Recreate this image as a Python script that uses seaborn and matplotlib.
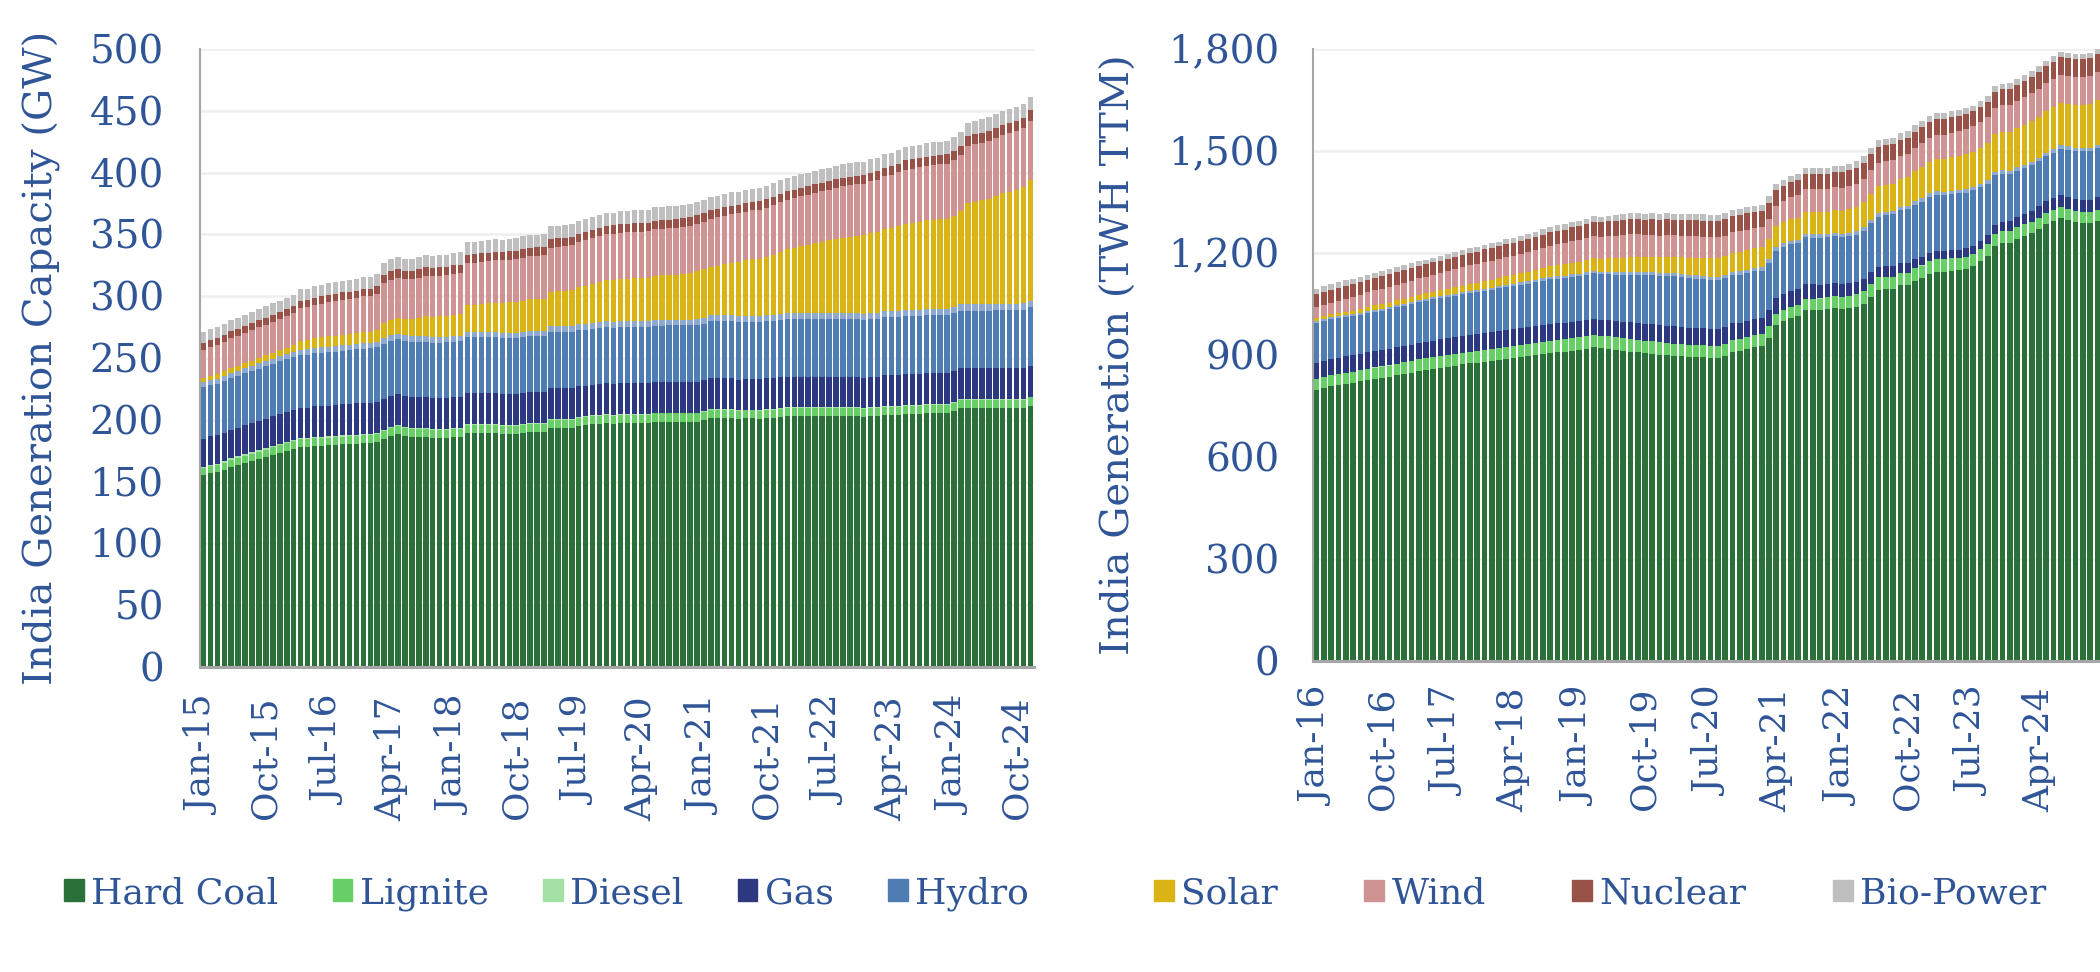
import numpy as np
import pandas as pd
import matplotlib
matplotlib.use("Agg")
import matplotlib.pyplot as plt
from matplotlib.patches import Patch
from matplotlib.ticker import FuncFormatter
import seaborn as sns

# ---------------- Left chart: installed capacity (GW), Jan-15 .. Dec-24 ----------------
coal_l = [155.3, 157.0, 157.8, 159.4, 161.8, 163.4, 165.0, 166.7, 168.3, 169.9, 171.5, 173.1,
          174.8, 176.4, 178.0, 178.0, 178.8, 178.8, 179.3, 179.5, 180.1, 180.3, 180.7, 181.2,
          181.5, 182.3, 184.5, 187.2, 188.5, 186.9, 186.1, 186.1, 186.1, 185.3, 185.3, 185.3,
          186.1, 186.1, 189.3, 189.3, 189.3, 189.3, 189.3, 188.5, 188.5, 188.5, 189.3, 190.1,
          190.1, 190.1, 193.4, 193.4, 193.4, 193.4, 195.0, 195.5, 196.3, 196.8, 197.4, 196.8,
          197.4, 197.4, 197.4, 197.4, 197.4, 198.5, 198.5, 198.5, 198.5, 198.5, 198.5, 198.5,
          199.8, 201.5, 201.5, 201.5, 201.5, 200.5, 201.2, 201.2, 200.6, 201.5, 201.5, 202.3,
          203.0, 203.0, 203.0, 203.0, 203.0, 203.0, 203.0, 203.0, 203.0, 203.0, 203.0, 202.3,
          203.0, 203.0, 203.9, 203.9, 203.9, 204.7, 204.7, 204.7, 205.5, 205.5, 205.5, 205.5,
          207.1, 209.5, 209.5, 209.5, 209.5, 209.5, 209.5, 209.5, 209.5, 209.5, 209.5, 211.4]
lignite_l = [5.6, 5.6, 5.6, 5.7, 5.8, 5.8, 5.9, 5.9, 6.0, 6.0, 6.1, 6.1,
             6.2, 6.2, 6.2, 6.2, 6.3, 6.3, 6.3, 6.3, 6.3, 6.3, 6.3, 6.3,
             6.3, 6.3, 6.3, 6.3, 6.3, 6.3, 6.3, 6.3, 6.3, 6.3, 6.3, 6.3,
             6.3, 6.3, 6.3, 6.3, 6.4, 6.4, 6.4, 6.5, 6.5, 6.5, 6.5, 6.5,
             6.5, 6.5, 6.6, 6.6, 6.6, 6.6, 6.6, 6.6, 6.6, 6.6, 6.6, 6.6,
             6.6, 6.6, 6.6, 6.6, 6.6, 6.6, 6.6, 6.6, 6.6, 6.6, 6.6, 6.6,
             6.6, 6.6, 6.6, 6.6, 6.6, 6.6, 6.6, 6.6, 6.6, 6.6, 6.6, 6.6,
             6.6, 6.6, 6.6, 6.6, 6.6, 6.6, 6.6, 6.6, 6.6, 6.6, 6.6, 6.6,
             6.6, 6.6, 6.6, 6.6, 6.6, 6.6, 6.6, 6.6, 6.6, 6.6, 6.6, 6.6,
             6.6, 6.6, 6.6, 6.6, 6.6, 6.6, 6.7, 6.7, 6.7, 6.8, 6.8, 6.8]
diesel_l = [1.2, 1.2, 1.2, 1.2, 1.2, 1.2, 1.2, 1.2, 1.2, 1.2, 1.2, 1.2,
            1.0, 1.0, 1.0, 1.0, 1.0, 1.0, 1.0, 1.0, 1.0, 1.0, 1.0, 1.0,
            0.8, 0.8, 0.8, 0.8, 0.8, 0.8, 0.8, 0.8, 0.8, 0.8, 0.8, 0.8,
            0.8, 0.8, 0.8, 0.8, 0.8, 0.8, 0.8, 0.8, 0.8, 0.8, 0.8, 0.8,
            0.6, 0.6, 0.6, 0.6, 0.6, 0.6, 0.6, 0.6, 0.6, 0.6, 0.6, 0.6,
            0.5, 0.5, 0.5, 0.5, 0.5, 0.5, 0.5, 0.5, 0.5, 0.5, 0.5, 0.5,
            0.5, 0.5, 0.5, 0.5, 0.5, 0.5, 0.5, 0.5, 0.5, 0.5, 0.5, 0.5,
            0.5, 0.5, 0.5, 0.5, 0.5, 0.5, 0.5, 0.5, 0.5, 0.5, 0.5, 0.5,
            0.6, 0.6, 0.6, 0.6, 0.6, 0.6, 0.6, 0.6, 0.6, 0.6, 0.6, 0.6,
            0.6, 0.6, 0.6, 0.6, 0.6, 0.6, 0.6, 0.6, 0.6, 0.6, 0.6, 0.6]
gas_l = [22.6, 22.8, 23.0, 23.2, 23.3, 23.3, 23.4, 23.5, 23.7, 23.9, 24.1, 24.3,
         24.5, 24.5, 24.5, 24.6, 24.8, 24.9, 24.9, 25.0, 25.1, 25.1, 25.2, 25.3,
         25.3, 25.3, 25.3, 25.3, 25.2, 25.2, 25.2, 25.2, 25.1, 25.1, 25.1, 25.1,
         25.0, 25.0, 24.9, 24.9, 24.9, 24.9, 24.9, 24.9, 24.9, 24.9, 24.9, 24.9,
         24.9, 24.9, 24.9, 24.9, 24.9, 24.9, 24.9, 24.9, 24.9, 24.9, 24.9, 24.9,
         24.9, 24.9, 24.9, 24.9, 24.9, 24.9, 24.9, 24.9, 24.9, 24.9, 24.9, 24.9,
         24.9, 24.9, 24.9, 24.9, 24.9, 24.9, 24.9, 24.9, 24.9, 24.9, 24.9, 24.9,
         24.9, 24.9, 24.9, 24.8, 24.8, 24.8, 24.8, 24.8, 24.8, 24.8, 24.8, 24.8,
         24.8, 24.8, 24.8, 24.8, 24.8, 24.8, 24.8, 24.8, 24.8, 24.8, 24.8, 24.8,
         24.8, 24.8, 24.8, 24.8, 24.8, 24.8, 24.9, 24.9, 24.9, 25.0, 25.0, 25.0]
hydro_l = [41.5, 41.5, 41.6, 41.7, 41.8, 41.9, 42.0, 42.1, 42.2, 42.3, 42.4, 42.5,
           42.6, 42.7, 42.8, 43.0, 43.1, 43.2, 43.3, 43.4, 43.5, 43.6, 43.7, 43.8,
           43.9, 44.0, 44.5, 44.5, 44.6, 44.6, 44.7, 44.8, 44.9, 45.0, 45.0, 45.1,
           45.1, 45.2, 45.3, 45.3, 45.3, 45.3, 45.3, 45.3, 45.4, 45.4, 45.4, 45.4,
           45.4, 45.4, 45.4, 45.4, 45.4, 45.4, 45.4, 45.4, 45.4, 45.5, 45.6, 45.7,
           45.7, 45.7, 45.7, 45.7, 45.7, 45.7, 45.7, 45.8, 45.8, 45.9, 45.9, 46.0,
           46.1, 46.2, 46.2, 46.2, 46.2, 46.3, 46.3, 46.3, 46.4, 46.4, 46.5, 46.5,
           46.5, 46.6, 46.7, 46.7, 46.7, 46.7, 46.8, 46.8, 46.8, 46.8, 46.9, 46.9,
           46.9, 46.9, 46.9, 46.9, 46.9, 46.9, 46.9, 46.9, 46.9, 46.9, 46.9, 46.9,
           46.9, 46.9, 46.9, 46.9, 46.9, 46.9, 47.0, 47.0, 47.1, 47.1, 47.2, 47.2]
small_hydro_l = [4.0, 4.0, 4.1, 4.1, 4.1, 4.1, 4.1, 4.1, 4.2, 4.2, 4.2, 4.2,
                 4.2, 4.2, 4.3, 4.3, 4.3, 4.3, 4.3, 4.3, 4.3, 4.3, 4.3, 4.3,
                 4.3, 4.3, 4.4, 4.4, 4.4, 4.4, 4.4, 4.4, 4.4, 4.4, 4.4, 4.4,
                 4.4, 4.4, 4.5, 4.5, 4.5, 4.5, 4.5, 4.5, 4.5, 4.5, 4.5, 4.5,
                 4.5, 4.5, 4.6, 4.6, 4.6, 4.6, 4.6, 4.6, 4.6, 4.6, 4.6, 4.6,
                 4.6, 4.6, 4.7, 4.7, 4.7, 4.7, 4.7, 4.7, 4.7, 4.7, 4.7, 4.7,
                 4.7, 4.7, 4.8, 4.8, 4.8, 4.8, 4.8, 4.8, 4.8, 4.8, 4.8, 4.8,
                 4.8, 4.8, 4.8, 4.8, 4.8, 4.8, 4.8, 4.8, 4.8, 4.8, 4.8, 4.8,
                 4.9, 4.9, 4.9, 4.9, 4.9, 4.9, 4.9, 4.9, 4.9, 4.9, 4.9, 4.9,
                 4.9, 4.9, 5.0, 5.0, 5.0, 5.0, 5.0, 5.0, 5.0, 5.0, 5.0, 5.0]
solar_l = [3.4, 3.5, 3.7, 3.8, 4.0, 4.1, 4.2, 4.3, 4.5, 4.6, 4.7, 4.9,
           5.1, 5.6, 6.8, 7.1, 7.6, 8.1, 8.3, 8.5, 8.6, 8.7, 8.9, 9.0,
           9.2, 9.6, 12.3, 12.5, 12.8, 13.1, 13.7, 14.8, 16.2, 16.5, 16.8, 17.1,
           17.4, 17.8, 21.6, 21.9, 22.5, 23.0, 23.4, 23.9, 24.3, 24.6, 24.9, 25.2,
           25.5, 26.0, 28.2, 28.6, 29.0, 29.5, 30.1, 30.7, 31.7, 32.5, 33.1, 33.7,
           34.0, 34.3, 34.6, 34.8, 35.1, 35.7, 35.9, 36.1, 36.3, 36.9, 37.6, 38.8,
           39.1, 39.6, 40.1, 41.3, 42.5, 43.9, 44.6, 45.4, 46.3, 47.1, 48.6, 50.3,
           51.5, 52.8, 54.0, 55.3, 56.6, 57.7, 58.6, 59.7, 60.8, 61.6, 62.2, 63.3,
           64.4, 65.3, 66.8, 67.8, 69.0, 70.1, 70.8, 71.6, 72.0, 72.3, 72.8, 73.3,
           74.3, 75.6, 82.0, 83.2, 84.3, 85.5, 87.2, 89.4, 90.8, 92.1, 94.2, 97.9]
wind_l = [22.6, 22.9, 23.4, 23.6, 23.8, 24.0, 24.2, 24.5, 24.7, 24.8, 25.0, 25.1,
          25.3, 25.6, 26.8, 26.9, 27.1, 27.4, 27.7, 28.1, 28.3, 28.5, 28.7, 28.9,
          29.1, 29.5, 32.3, 32.3, 32.4, 32.5, 32.6, 32.7, 32.7, 32.8, 32.8, 32.9,
          33.0, 33.2, 34.0, 34.1, 34.2, 34.3, 34.4, 34.5, 34.6, 34.8, 35.0, 35.1,
          35.3, 35.4, 35.6, 35.8, 36.1, 36.4, 36.6, 36.8, 37.0, 37.1, 37.3, 37.5,
          37.6, 37.7, 37.7, 37.7, 37.7, 37.8, 37.9, 38.0, 38.1, 38.3, 38.4, 38.6,
          38.7, 38.8, 39.2, 39.2, 39.3, 39.4, 39.5, 39.7, 39.9, 39.9, 40.0, 40.1,
          40.2, 40.3, 40.4, 40.5, 40.7, 40.9, 41.2, 41.5, 41.7, 41.8, 41.9, 41.9,
          42.0, 42.3, 42.6, 42.9, 43.4, 43.8, 44.0, 44.1, 44.2, 44.4, 44.5, 44.7,
          45.0, 45.3, 45.9, 46.2, 46.4, 46.7, 46.9, 47.2, 47.4, 47.7, 48.0, 48.2]
nuclear_l = [5.8, 5.8, 5.8, 5.8, 5.8, 5.8, 5.8, 5.8, 5.8, 5.8, 5.8, 5.8,
             5.8, 5.8, 5.8, 5.8, 5.8, 5.8, 5.8, 5.8, 5.8, 5.8, 5.8, 5.8,
             5.8, 5.8, 6.8, 6.8, 6.8, 6.8, 6.8, 6.8, 6.8, 6.8, 6.8, 6.8,
             6.8, 6.8, 6.8, 6.8, 6.8, 6.8, 6.8, 6.8, 6.8, 6.8, 6.8, 6.8,
             6.8, 6.8, 6.8, 6.8, 6.8, 6.8, 6.8, 6.8, 6.8, 6.8, 6.8, 6.8,
             6.8, 6.8, 6.8, 6.8, 6.8, 6.8, 6.8, 6.8, 6.8, 6.8, 6.8, 6.8,
             6.8, 6.8, 6.8, 6.8, 6.8, 6.8, 6.8, 6.8, 6.8, 6.8, 6.8, 6.8,
             6.8, 6.8, 6.8, 6.8, 6.8, 6.8, 6.8, 6.8, 6.8, 6.8, 6.8, 6.8,
             6.8, 6.8, 6.8, 6.8, 6.8, 7.5, 7.5, 7.5, 7.5, 7.5, 7.5, 7.5,
             7.5, 7.5, 8.2, 8.2, 8.2, 8.2, 8.2, 8.2, 8.2, 8.2, 8.2, 8.2]
bio_l = [8.8, 8.8, 8.9, 8.9, 8.9, 9.0, 9.0, 9.0, 9.1, 9.1, 9.1, 9.2,
         9.2, 9.3, 9.3, 9.3, 9.4, 9.4, 9.4, 9.5, 9.5, 9.5, 9.6, 9.6,
         9.6, 9.7, 9.7, 9.7, 9.7, 9.8, 9.8, 9.8, 9.8, 9.9, 9.9, 9.9,
         9.9, 10.0, 10.0, 10.0, 10.0, 10.1, 10.1, 10.1, 10.1, 10.2, 10.2, 10.2,
         10.2, 10.3, 10.3, 10.3, 10.3, 10.4, 10.4, 10.4, 10.4, 10.5, 10.5, 10.5,
         10.5, 10.6, 10.6, 10.6, 10.6, 10.6, 10.6, 10.7, 10.7, 10.7, 10.7, 10.7,
         10.8, 10.8, 10.8, 10.8, 10.9, 10.9, 10.9, 10.9, 11.0, 11.0, 11.0, 11.0,
         11.0, 11.0, 11.0, 11.0, 11.0, 11.0, 11.0, 11.0, 11.0, 11.0, 11.0, 11.0,
         11.0, 11.0, 11.0, 11.0, 11.0, 11.0, 11.0, 11.0, 11.0, 11.0, 11.0, 11.0,
         11.0, 11.0, 11.0, 11.0, 11.0, 11.0, 11.0, 11.0, 11.0, 11.0, 11.0, 11.0]

# ---------------- Right chart: generation, TWh trailing twelve months, Jan-16 .. Dec-24 ----------------
coal_r = [797, 803, 809, 813, 816, 819, 822, 826, 830, 833, 836, 841,
          845, 848, 854, 857, 860, 863, 866, 869, 872, 875, 877, 880,
          883, 886, 889, 892, 895, 898, 901, 904, 907, 910, 910, 913,
          916, 919, 922, 920, 918, 915, 912, 910, 908, 905, 904, 901,
          900, 898, 897, 895, 894, 894, 891, 891, 898, 909, 912, 918,
          924, 926, 950, 988, 1000, 1010, 1015, 1032, 1032, 1032, 1035, 1038,
          1035, 1038, 1041, 1050, 1071, 1091, 1094, 1095, 1106, 1106, 1119, 1126,
          1138, 1144, 1144, 1147, 1150, 1153, 1162, 1176, 1191, 1221, 1229, 1229,
          1241, 1250, 1259, 1271, 1285, 1294, 1303, 1297, 1291, 1288, 1288, 1294]
lignite_r = [32, 32, 32, 32, 32, 32, 33, 33, 33, 33, 33, 33,
             33, 33, 33, 33, 33, 33, 33, 33, 33, 34, 34, 34,
             34, 34, 34, 34, 34, 34, 35, 35, 35, 35, 36, 36,
             36, 36, 37, 37, 38, 38, 38, 38, 37, 37, 36, 36,
             35, 35, 35, 34, 34, 35, 35, 35, 35, 35, 35, 35,
             35, 35, 34, 33, 33, 32, 32, 33, 33, 34, 35, 35,
             36, 36, 37, 38, 38, 37, 36, 35, 34, 35, 36, 37,
             38, 38, 37, 37, 36, 36, 35, 35, 35, 35, 35, 35,
             34, 34, 33, 33, 32, 32, 32, 32, 32, 32, 32, 32]
diesel_r = [0.3, 0.3, 0.3, 0.3, 0.3, 0.3, 0.3, 0.3, 0.3, 0.3, 0.3, 0.3,
            0.3, 0.3, 0.3, 0.3, 0.3, 0.3, 0.3, 0.3, 0.3, 0.3, 0.3, 0.3,
            0.3, 0.3, 0.3, 0.3, 0.3, 0.3, 0.3, 0.3, 0.3, 0.3, 0.3, 0.3,
            0.2, 0.2, 0.2, 0.2, 0.2, 0.2, 0.2, 0.2, 0.2, 0.2, 0.2, 0.2,
            0.2, 0.2, 0.2, 0.2, 0.2, 0.2, 0.2, 0.2, 0.2, 0.2, 0.2, 0.2,
            0.2, 0.2, 0.2, 0.2, 0.2, 0.2, 0.2, 0.2, 0.2, 0.2, 0.2, 0.2,
            0.2, 0.2, 0.2, 0.2, 0.2, 0.2, 0.2, 0.2, 0.2, 0.2, 0.2, 0.2,
            0.2, 0.2, 0.2, 0.2, 0.2, 0.2, 0.2, 0.2, 0.2, 0.2, 0.2, 0.2,
            0.2, 0.2, 0.2, 0.2, 0.2, 0.2, 0.2, 0.2, 0.2, 0.2, 0.2, 0.2]
gas_r = [47, 47, 47, 47, 48, 48, 48, 48, 48, 48, 48, 48,
         48, 49, 49, 49, 49, 50, 50, 50, 50, 50, 50, 50,
         50, 50, 50, 50, 50, 50, 50, 50, 50, 49, 49, 49,
         48, 48, 48, 47, 47, 47, 48, 48, 49, 49, 50, 50,
         51, 51, 51, 51, 51, 51, 51, 51, 50, 49, 48, 48,
         47, 47, 47, 47, 47, 47, 47, 45, 43, 41, 38, 38,
         38, 37, 36, 35, 34, 32, 32, 31, 30, 29, 27, 26,
         25, 24, 24, 24, 24, 24, 24, 25, 26, 27, 28, 29,
         30, 31, 32, 33, 35, 35, 35, 35, 35, 35, 36, 38]
hydro_r = [119, 118, 117, 116, 115, 114, 114, 115, 116, 116, 117, 118,
           118, 119, 119, 120, 121, 121, 122, 122, 123, 124, 124, 125,
           125, 126, 126, 126, 127, 127, 128, 129, 130, 130, 131, 132,
           132, 133, 133, 133, 134, 136, 138, 140, 142, 143, 144, 145,
           147, 147, 146, 146, 145, 143, 143, 143, 142, 141, 141, 140,
           140, 140, 140, 138, 138, 137, 135, 136, 137, 138, 138, 138,
           138, 139, 140, 142, 144, 147, 149, 152, 156, 158, 160, 162,
           164, 165, 165, 165, 165, 164, 163, 158, 152, 146, 141, 139,
           137, 135, 134, 133, 132, 134, 137, 140, 142, 144, 144, 144]
small_hydro_r = [5, 5, 5, 5, 5, 6, 6, 6, 6, 6, 6, 6,
                 6, 6, 6, 6, 6, 6, 6, 6, 6, 6, 6, 6,
                 6, 6, 7, 7, 7, 7, 7, 7, 7, 7, 7, 7,
                 7, 7, 8, 8, 8, 8, 8, 9, 9, 9, 9, 9,
                 9, 9, 9, 10, 10, 10, 10, 10, 10, 10, 10, 10,
                 10, 10, 10, 10, 10, 10, 10, 10, 10, 10, 10, 10,
                 10, 10, 10, 10, 10, 10, 10, 10, 10, 10, 10, 10,
                 10, 10, 10, 10, 10, 10, 10, 10, 10, 10, 10, 10,
                 10, 10, 10, 10, 10, 10, 10, 10, 10, 10, 10, 10]
solar_r = [9, 9.5, 10, 10.5, 11, 11.5, 12, 12.5, 13, 13.5, 14, 14.5,
           15, 15.5, 16, 16.5, 17, 17.5, 18, 18.5, 19, 20, 21, 22,
           23, 24, 25, 26, 27, 28, 29, 30, 31, 32, 33, 34,
           35, 36, 37, 38, 39, 40, 41, 42, 43, 44, 45, 46,
           47, 48, 49, 50, 52, 53, 54, 55, 56, 57, 58, 59,
           59, 60, 61, 62, 63, 64, 65, 65, 65, 65, 64, 66,
           67, 69, 72, 75, 77, 79, 80, 81, 82, 85, 88, 91,
           93, 95, 97, 99, 101, 103, 104, 106, 108, 110, 112, 113,
           115, 117, 119, 121, 123, 124, 125, 125, 125, 126, 129, 132]
wind_r = [31, 32, 34, 36, 38, 40, 42, 43, 44, 45, 46, 46,
          47, 47, 48, 49, 50, 51, 52, 53, 55, 55, 55, 56,
          56, 56, 56, 57, 57, 58, 59, 60, 61, 62, 62, 63,
          64, 64, 65, 65, 66, 67, 68, 68, 68, 66, 65, 64,
          64, 64, 64, 63, 63, 62, 62, 61, 60, 60, 59, 58,
          58, 58, 59, 60, 62, 64, 66, 68, 68, 68, 68, 68,
          68, 68, 68, 68, 69, 69, 69, 68, 68, 69, 70, 71,
          71, 71, 71, 72, 73, 74, 74, 76, 78, 78, 79, 79,
          80, 81, 82, 82, 82, 82, 82, 82, 82, 82, 82, 82]
nuclear_r = [38, 38, 38, 38, 38, 37, 37, 37, 37, 37, 37, 37,
             37, 37, 36, 36, 36, 36, 36, 36, 36, 36, 37, 37,
             37, 37, 38, 38, 38, 38, 38, 39, 39, 40, 40, 41,
             41, 42, 42, 43, 43, 43, 44, 44, 45, 45, 46, 46,
             46, 46, 46, 47, 47, 47, 47, 48, 48, 48, 48, 48,
             48, 48, 47, 46, 45, 44, 44, 44, 44, 44, 45, 46,
             46, 47, 47, 47, 47, 47, 47, 47, 47, 47, 47, 46,
             46, 46, 45, 45, 45, 44, 44, 44, 45, 46, 47, 48,
             48, 49, 49, 50, 50, 51, 51, 52, 52, 52, 53, 53]
bio_r = [17, 17, 16, 16, 16, 16, 15, 15, 15, 15, 15, 15,
         15, 15, 14, 14, 14, 14, 14, 14, 14, 14, 14, 14,
         14, 14, 15, 15, 15, 15, 15, 15, 15, 16, 16, 16,
         16, 16, 16, 16, 17, 17, 17, 17, 17, 17, 17, 17,
         17, 17, 18, 18, 18, 18, 18, 18, 18, 18, 18, 18,
         18, 18, 18, 18, 17, 17, 17, 17, 17, 17, 17, 17,
         17, 18, 18, 19, 19, 19, 19, 19, 20, 20, 19, 19,
         18, 18, 18, 17, 17, 17, 17, 17, 17, 17, 17, 17,
         17, 17, 16, 16, 16, 16, 16, 16, 15, 15, 15, 15]

left_ticklabels = ["Jan-15", "Oct-15", "Jul-16", "Apr-17", "Jan-18", "Oct-18", "Jul-19",
                   "Apr-20", "Jan-21", "Oct-21", "Jul-22", "Apr-23", "Jan-24", "Oct-24"]
right_ticklabels = ["Jan-16", "Oct-16", "Jul-17", "Apr-18", "Jan-19", "Oct-19",
                    "Jul-20", "Apr-21", "Jan-22", "Oct-22", "Jul-23", "Apr-24"]

names = ["Hard Coal", "Lignite", "Diesel", "Gas", "Hydro", "Small Hydro",
         "Solar", "Wind", "Nuclear", "Bio-Power"]
colors = ["#2A7038", "#66CF66", "#A3E0A3", "#2C3880", "#4F7DB3", "#8EA9D0",
          "#DAB315", "#D09393", "#985248", "#BFBFBF"]

TXT = "#2F5597"
GRAY = "#A6A6A6"

sns.set_theme(style="white")
plt.rcParams["font.family"] = ["DejaVu Serif"]


def stacked_bars(ax, start, layers, ticklabels, ymax, ystep, ylabel, label_x, ypad, xpad):
    months = list(pd.date_range(start, periods=len(layers[0]), freq="MS").strftime("%b-%y"))
    cum = np.cumsum(np.array(layers, dtype=float), axis=0)
    # draw cumulative totals from the top layer down so each layer shows its own slice
    for k in range(len(layers) - 1, -1, -1):
        sns.barplot(x=months, y=cum[k], color=colors[k], width=0.78, saturation=1,
                    linewidth=0, errorbar=None, ax=ax, zorder=2)
    ax.set_xlim(-0.5, len(months) - 0.5)
    ax.set_ylim(0, ymax)
    ax.set_yticks(np.arange(0, ymax + 1, ystep))
    ax.yaxis.set_major_formatter(FuncFormatter(lambda v, p: f"{v:,.0f}"))
    ax.set_xticks([months.index(t) for t in ticklabels])
    ax.set_xticklabels(ticklabels, rotation=90)
    ax.yaxis.grid(True, color="#EFEFEF", lw=1.8)
    ax.xaxis.grid(False)
    ax.set_axisbelow(True)
    for s in ["top", "right"]:
        ax.spines[s].set_visible(False)
    ax.spines["left"].set_color(GRAY)
    ax.spines["left"].set_linewidth(1.5)
    ax.spines["bottom"].set_color(GRAY)
    ax.spines["bottom"].set_linewidth(2.2)
    ax.spines["bottom"].set_zorder(3)
    ax.tick_params(axis="y", length=0, labelsize=28, labelcolor=TXT, pad=ypad)
    ax.tick_params(axis="x", length=0, labelsize=26, labelcolor=TXT, pad=xpad)
    ax.set_xlabel("")
    ax.set_ylabel(ylabel, fontsize=29, color=TXT, va="center")
    ax.yaxis.set_label_coords(label_x, 0.5)


fig = plt.figure(figsize=(21, 9.72), dpi=100)
ax1 = fig.add_axes([0.0952, 0.3138, 0.3972, 0.6358])
ax2 = fig.add_axes([0.6252, 0.3200, 0.3753, 0.6296])

stacked_bars(ax1, "2015-01-01",
             [coal_l, lignite_l, diesel_l, gas_l, hydro_l, small_hydro_l,
              solar_l, wind_l, nuclear_l, bio_l],
             left_ticklabels, 500, 50, "India Generation Capacity (GW)", -0.189, 26, 21)
stacked_bars(ax2, "2016-01-01",
             [coal_r, lignite_r, diesel_r, gas_r, hydro_r, small_hydro_r,
              solar_r, wind_r, nuclear_r, bio_r],
             right_ticklabels, 1800, 300, "India Generation (TWH TTM)", -0.245, 24, 19)

legend_kw = dict(loc="center left", frameon=False, fontsize=26, handlelength=0.55,
                 handleheight=0.55, handletextpad=0.2, borderpad=0, borderaxespad=0,
                 labelcolor=TXT)
fig.legend([Patch(color=c) for c in colors[:5]], names[:5], ncol=5,
           bbox_to_anchor=(0.0305, 0.081), columnspacing=1.5, **legend_kw)
fig.legend([Patch(color=c) for c in colors[6:]], names[6:], ncol=4,
           bbox_to_anchor=(0.5495, 0.081), columnspacing=2.4, **legend_kw)

fig.savefig("out.png", dpi=100)
